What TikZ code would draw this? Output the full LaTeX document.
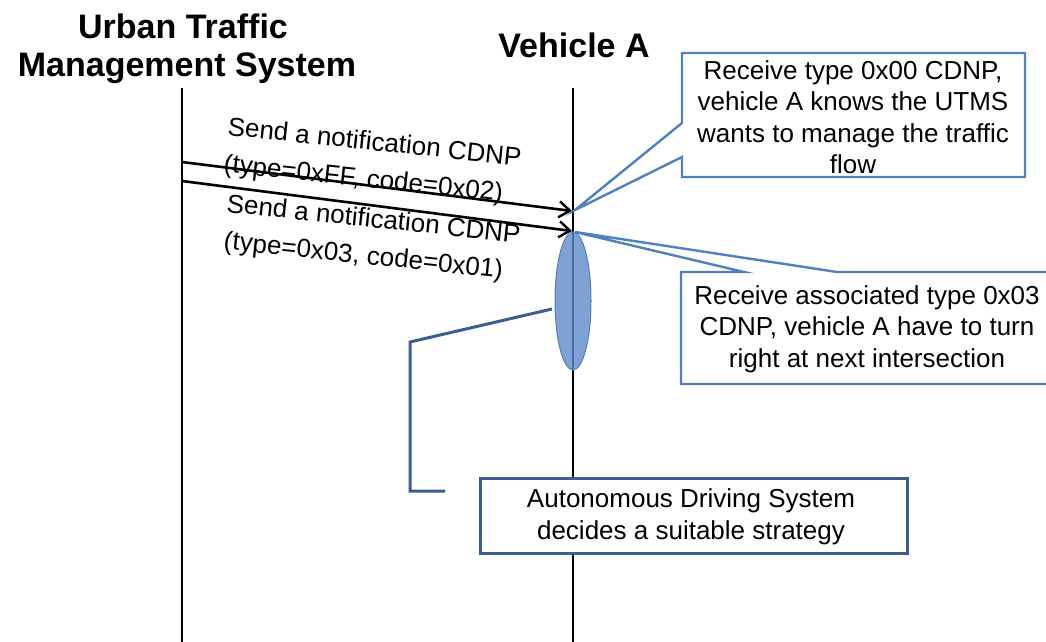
\documentclass[tikz,border=0pt]{standalone}
\usepackage{fontspec}
\setmainfont{Liberation Sans}
\usetikzlibrary{arrows.meta,shapes.geometric}
\definecolor{cbl}{RGB}{79,129,189}
\definecolor{cdk}{RGB}{58,95,142}
\definecolor{cfill}{RGB}{95,137,200}
\begin{document}
\begin{tikzpicture}[x=1pt,y=-1pt,
 life/.style={line width=2.4pt},
 msg/.style={line width=2.6pt,-{Straight Barb[length=11pt,width=16pt,line width=2.4pt]}},
 lbl/.style={font=\fontsize{26}{31.5}\selectfont, anchor=base west, rotate=-6, inner sep=0pt},
 ctext/.style={font=\fontsize{26}{31.5}\selectfont, align=center, inner sep=0pt},
 ttl/.style={font=\fontsize{34}{37}\selectfont\bfseries, anchor=base, inner sep=0pt},
 co/.style={draw=cbl, line width=2.4pt, fill=white, line join=miter},
 codk/.style={draw=cdk, line width=3pt, fill=white},
 lead/.style={draw=cdk, line width=3pt}]
\useasboundingbox (0,0) rectangle (1046,642);
% titles
\node[ttl] (t1a) at (183,39) {Urban Traffic};
\node[ttl] (t1b) at (187,77) {Management System};
\node[ttl] (t2) at (574,57) {Vehicle A};
% lifelines
\coordinate (uTop) at (182,88);
\coordinate (uBot) at (182,642);
\coordinate (vTop) at (573,88);
\coordinate (vBot) at (573,642);
\draw[life] (uTop) -- (uBot);
\draw[life] (vTop) -- (vBot);
% messages
\coordinate (m1s) at (182,162);
\coordinate (m1e) at (572,211);
\coordinate (m2s) at (182,181);
\coordinate (m2e) at (572,231);
\draw[msg] (m1s) -- (m1e);
\draw[msg] (m2s) -- (m2e);
\node[lbl] (l1a) at (227,135) {Send a notification CDNP};
\node[lbl] (l1b) at (223,172) {(type=0xFF, code=0x02)};
\node[lbl] (l2a) at (226,212) {Send a notification CDNP};
\node[lbl] (l2b) at (223,249) {(type=0x03, code=0x01)};
% activation ellipse
\node[ellipse, minimum width=36pt, minimum height=138pt, inner sep=0pt,
      fill=cfill, fill opacity=0.8, draw=cbl, line width=1pt] (act) at (573,301) {};
% callout 1
\coordinate (tip1) at (575,210);
\draw[co] (682,53) -- (1025,53) -- (1025,177) -- (682,177) -- (682,157) -- (tip1) -- (682,123) -- cycle;
\node[ctext] (c1) at (853,117) {Receive type 0x00 CDNP,\\vehicle A knows the UTMS\\wants to manage the traffic\\flow};
% callout 2
\coordinate (tip2) at (575,232);
\draw[co] (681,272) -- (744,272) -- (tip2) -- (837,272) -- (1060,272) -- (1060,384) -- (681,384) -- cycle;
\node[ctext] (c2) at (867,329) {Receive associated type 0x03\\CDNP, vehicle A have to turn\\right at next intersection};
% ADS callout
\node[codk, minimum width=427pt, minimum height=75pt] (ads) at (693.5,515.5) {};
\node[ctext] (adst) at (691,517) {Autonomous Driving System\\decides a suitable strategy};
\coordinate (ld0) at (552,309);
\coordinate (ld1) at (410,342);
\coordinate (ld2) at (410,491);
\coordinate (ld3) at (445,491);
\draw[lead] (ld0) -- (ld1) -- (ld2) -- (ld3);
\end{tikzpicture}
\end{document}
